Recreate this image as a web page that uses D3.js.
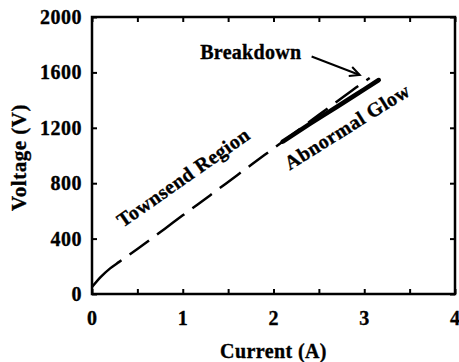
<!DOCTYPE html>
<html lang="en">
<head>
    <meta charset="UTF-8">
    <title>Voltage vs Current</title>
    <script src="https://d3js.org/d3.v7.min.js"></script>
    <style>
        body { margin: 0; background: #fff; }
        svg text { font-family: "Liberation Serif", "Times New Roman", serif; font-weight: bold; fill: #000; stroke: #000; stroke-width: 0.35px; }
    </style>
</head>
<body>
    <svg width="459" height="362"></svg>

    <script>
        // Townsend region (dashed curve)
        const townsendI = [0, 0.1, 0.2, 0.3, 0.5, 0.8, 1.0, 1.3, 1.6, 1.9, 2.1, 2.4, 2.7, 3.0, 3.06];
        const townsendV = [50, 125, 185, 232, 325, 470, 568, 712, 858, 1003, 1100, 1245, 1390, 1533, 1560];
        // Abnormal glow (thick solid line)
        const glowI = [2.1, 2.4, 2.7, 3.0, 3.16];
        const glowV = [1100, 1228, 1352, 1478, 1545];

        const xTicks = [0, 1, 2, 3, 4];
        const yTicks = [0, 400, 800, 1200, 1600, 2000];

        const svg = d3.select("svg");
        const margin = { top: 17, right: 4, bottom: 68, left: 92 };
        const width = +svg.attr("width");
        const height = +svg.attr("height");

        const x = d3.scaleLinear().domain([0, 4]).range([margin.left, width - margin.right]);
        const y = d3.scaleLinear().domain([0, 2000]).range([height - margin.bottom, margin.top]);

        // axes, ticks point inward
        svg.append("g")
            .attr("transform", `translate(0,${y(0)})`)
            .call(d3.axisBottom(x).tickValues(d3.range(0, 4.01, 0.5)).tickSize(-5).tickFormat(""))
            .call(g => g.select(".domain").remove());
        svg.append("g")
            .attr("transform", `translate(0,${y(2000)})`)
            .call(d3.axisTop(x).tickValues(d3.range(0, 4.01, 0.5)).tickSize(-5).tickFormat(""))
            .call(g => g.select(".domain").remove());
        svg.append("g")
            .attr("transform", `translate(${x(0)},0)`)
            .call(d3.axisLeft(y).tickValues(yTicks).tickSize(-5).tickFormat(""))
            .call(g => g.select(".domain").remove());
        svg.append("g")
            .attr("transform", `translate(${x(4)},0)`)
            .call(d3.axisRight(y).tickValues(yTicks).tickSize(-5).tickFormat(""))
            .call(g => g.select(".domain").remove());
        svg.selectAll(".tick line").attr("stroke", "#000").attr("stroke-width", 2);

        svg.append("rect")
            .attr("x", x(0)).attr("y", y(2000))
            .attr("width", x(4) - x(0)).attr("height", y(0) - y(2000))
            .attr("fill", "none").attr("stroke", "#000").attr("stroke-width", 2.5);

        // tick labels
        svg.selectAll(".xlab").data(xTicks).enter().append("text")
            .attr("x", d => x(d)).attr("y", y(0) + 31)
            .attr("text-anchor", "middle").style("font-size", "20px")
            .text(d => d);
        svg.selectAll(".ylab").data(yTicks).enter().append("text")
            .attr("x", x(0) - 10).attr("y", d => y(d) + 7)
            .attr("text-anchor", "end").style("font-size", "20px").style("letter-spacing", "0.5px")
            .text(d => d);

        svg.append("text")
            .attr("x", x(2)).attr("y", 358)
            .attr("text-anchor", "middle").style("font-size", "20px").style("letter-spacing", "0.4px")
            .text("Current (A)");
        svg.append("text")
            .attr("transform", `translate(26,${(y(0) + y(2000)) / 2 + 2}) rotate(-90)`)
            .attr("text-anchor", "middle").style("font-size", "21px").style("letter-spacing", "0.5px")
            .text("Voltage (V)");

        const line = d3.line().x(d => x(d[0])).y(d => y(d[1])).curve(d3.curveMonotoneX);

        svg.append("path")
            .datum(townsendI.map((d, i) => [d, townsendV[i]]))
            .attr("d", line)
            .attr("fill", "none").attr("stroke", "#000").attr("stroke-width", 2.5)
            .attr("stroke-dasharray", "40,10,24,10,34,10,24,10,26,10,24,10,30,10,24,10,28,10,24,10,30,6,6,6");

        svg.append("path")
            .datum(glowI.map((d, i) => [d, glowV[i]]))
            .attr("d", line)
            .attr("fill", "none").attr("stroke", "#000").attr("stroke-width", 4.5)
            .attr("stroke-linecap", "round");

        // annotations
        svg.append("text")
            .attr("transform", `translate(${x(1.06)},${y(790)}) rotate(-35)`)
            .attr("text-anchor", "middle").attr("dy", "-0.1em").style("font-size", "20px").style("letter-spacing", "0.4px")
            .text("Townsend Region");
        svg.append("text")
            .attr("transform", `translate(${x(2.81)},${y(1210)}) rotate(-32)`)
            .attr("text-anchor", "middle").attr("dy", "0.35em").style("font-size", "20px").style("letter-spacing", "0.4px")
            .text("Abnormal Glow");
        svg.append("text")
            .attr("x", x(1.75)).attr("y", y(1700))
            .attr("text-anchor", "middle").style("font-size", "20px").style("letter-spacing", "0.3px")
            .text("Breakdown");

        // arrow
        const ax0 = x(2.42), ay0 = y(1715), ax1 = x(2.95), ay1 = y(1581);
        const ang = Math.atan2(ay1 - ay0, ax1 - ax0);
        svg.append("line")
            .attr("x1", ax0).attr("y1", ay0).attr("x2", ax1).attr("y2", ay1)
            .attr("stroke", "#000").attr("stroke-width", 2);
        svg.append("path")
            .attr("d", `M${ax1 - 11 * Math.cos(ang - 0.45)},${ay1 - 11 * Math.sin(ang - 0.45)}L${ax1},${ay1}L${ax1 - 11 * Math.cos(ang + 0.45)},${ay1 - 11 * Math.sin(ang + 0.45)}`)
            .attr("fill", "none").attr("stroke", "#000").attr("stroke-width", 2);
    </script>
</body>
</html>
